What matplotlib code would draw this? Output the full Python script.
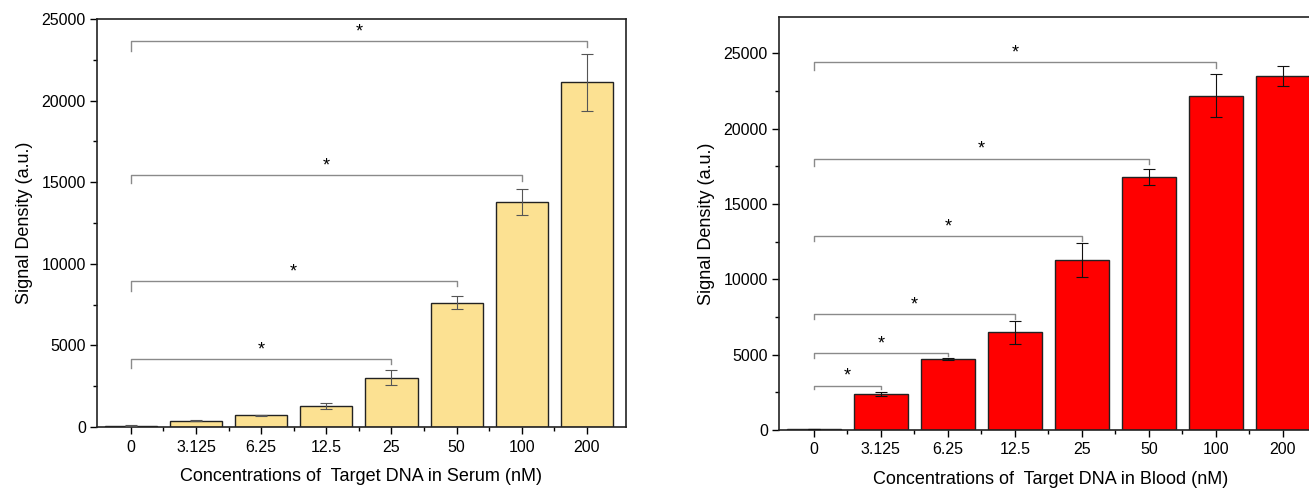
import matplotlib.pyplot as plt
import numpy as np
from matplotlib.ticker import MultipleLocator

plt.rcParams['font.family'] = ['Liberation Sans', 'DejaVu Sans']

categories = ['0', '3.125', '6.25', '12.5', '25', '50', '100', '200']

serum_mean = [80, 390, 716, 1309, 3026, 7628, 13804, 21125]
serum_err = [20, 40, 30, 190, 450, 420, 800, 1760]

blood_mean = [60, 2379, 4736, 6476, 11256, 16806, 22181, 23502]
blood_err = [20, 140, 60, 780, 1120, 520, 1430, 670]

# brackets: (right index, bar y, left leg bottom, right leg bottom, star y)
serum_brackets = [
    (4, 4172, 3600, 3845, 5090),
    (5, 8916, 8360, 8670, 9840),
    (6, 15460, 14950, 15060, 16320),
    (7, 23650, 23030, 23300, 24560),
]
blood_brackets = [
    (1, 2951, 2687, 2687, 3920),
    (2, 5110, 4800, 4930, 6057),
    (3, 7665, 7379, 7379, 8678),
    (4, 12841, 12511, 12555, 13833),
    (5, 17996, 17511, 17620, 18987),
    (6, 24427, 23900, 24000, 25396),
]

W, H = 1309, 488
fig = plt.figure(figsize=(W / 100, H / 100), dpi=100)

ax1 = fig.add_axes([97 / W, 1 - 427 / H, 529 / W, 408 / H])
ax2 = fig.add_axes([779 / W, 1 - 430 / H, 544 / W, 413 / H])

x = np.arange(len(categories))


def draw(ax, mean, err, color, ecolor, brackets, ymax, xlabel):
    ax.bar(x, mean, width=0.8, color=color, edgecolor='#222222', linewidth=1.0, zorder=2)
    ax.errorbar(x, mean, yerr=err, fmt='none', ecolor=ecolor, elinewidth=0.8,
                capsize=4, capthick=0.8, zorder=3)
    for j, yb, l0, l1, ys in brackets:
        ax.plot([0, 0, j, j], [l0, yb, yb, l1], color='#8a8a8a', lw=1.0, zorder=1)
        # the asterisk glyph sits high in its box, so nudge it down
        ax.annotate('*', (j / 2, ys), xytext=(0, -4), textcoords='offset points',
                    ha='center', va='center', fontsize=13)
    ax.set_xlim(-0.52, 7.6)
    ax.set_ylim(0, ymax)
    ax.set_xticks(x)
    ax.set_xticklabels(categories)
    ax.set_xticks(x[:-1] + 0.5, minor=True)
    ax.set_yticks(np.arange(0, 25001, 5000))
    ax.yaxis.set_minor_locator(MultipleLocator(2500))
    ax.tick_params(axis='both', which='major', direction='out', length=5, width=1,
                   labelsize=11.5)
    ax.tick_params(axis='both', which='minor', direction='out', length=3, width=1)
    ax.tick_params(axis='x', which='major', pad=4)
    ax.tick_params(axis='y', which='major', pad=3)
    ax.set_ylabel('Signal Density (a.u.)', fontsize=13, labelpad=6)
    ax.set_xlabel(xlabel, fontsize=13, labelpad=10)
    for s in ax.spines.values():
        s.set_linewidth(1.2)
        s.set_color('#222222')


draw(ax1, serum_mean, serum_err, '#fce192', '#555555', serum_brackets, 25000,
     'Concentrations of  Target DNA in Serum (nM)')
draw(ax2, blood_mean, blood_err, '#ff0000', '#111111', blood_brackets, 27400,
     'Concentrations of  Target DNA in Blood (nM)')

fig.savefig('out.png', dpi=100)
